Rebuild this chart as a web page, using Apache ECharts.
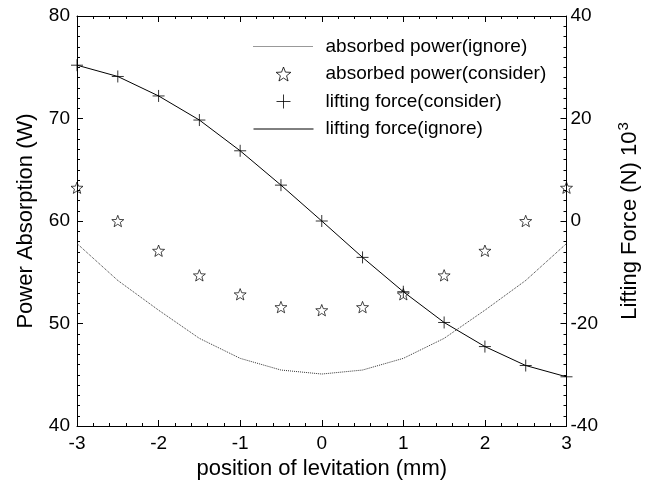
<!DOCTYPE html>
<html>
<head>
<meta charset="utf-8">
<script src="https://cdn.jsdelivr.net/npm/echarts@6/dist/echarts.min.js"></script>
<style>
  html, body { margin: 0; padding: 0; background: #fff; }
  #chart { width: 649px; height: 487px; }
</style>
</head>
<body>
<div id="chart"></div>
<script>
// positions of levitation (mm)
const positions = [-3, -2.5, -2, -1.5, -1, -0.5, 0, 0.5, 1, 1.5, 2, 2.5, 3];
// power absorption (W), left axis
const powerIgnore = [57.8, 54.2, 51.3, 48.55, 46.6, 45.46, 45.07, 45.46, 46.6, 48.55, 51.3, 54.2, 57.8];
const powerConsider = [63.25, 60.0, 57.1, 54.7, 52.85, 51.6, 51.3, 51.6, 52.85, 54.7, 57.1, 60.0, 63.25];
// lifting force (N x 10^3), right axis
const forceConsider = [30.4, 28.2, 24.4, 19.7, 13.7, 7.0, 0, -7.1, -13.8, -19.8, -24.5, -28.2, -30.4];
const forceIgnore = [30.4, 28.2, 24.4, 19.7, 13.7, 7.0, 0, -7.1, -13.8, -19.8, -24.5, -28.2, -30.4];

const names = ['absorbed power(ignore)', 'absorbed power(consider)', 'lifting force(consider)', 'lifting force(ignore)'];

const font = "'Liberation Sans', Arial, sans-serif";
const starPath = 'path://M10,0L12.47,6.6L19.51,6.91L13.99,11.3L15.88,18.09L10,14.2L4.12,18.09L6.01,11.3L0.49,6.91L7.53,6.6Z';
const plusPath = 'path://M0,5L10,5M5,0L5,10';

function pairs(ys) {
    return positions.map((x, i) => [x, ys[i]]);
}

// boxed frame: inside ticks on every side
function frame(minorSplit) {
    return {
        axisLine: { show: true, onZero: false, lineStyle: { color: '#000', width: 1 } },
        axisTick: { show: true, inside: true, length: 6, lineStyle: { color: '#000', width: 1 } },
        minorTick: { show: true, splitNumber: minorSplit, length: 3, lineStyle: { color: '#000', width: 1 } },
        splitLine: { show: false },
    };
}

const chart = echarts.init(document.getElementById('chart'));
chart.setOption({
    animation: false,
    textStyle: { fontFamily: font, color: '#000' },
    grid: { left: 77, right: 81, top: 16, bottom: 61 },
    legend: {
        orient: 'vertical',
        left: 253,
        top: 37,
        padding: 0,
        itemWidth: 60,
        itemHeight: 14,
        itemGap: 8.5,
        selectedMode: false,
        textStyle: { fontSize: 19, color: '#000', fontFamily: font, padding: [0, 0, 0, 7] },
        lineStyle: { width: 1 },
        itemStyle: { borderWidth: 1 },
        data: [
            { name: names[0], itemStyle: { opacity: 0 } },
            { name: names[1] },
            { name: names[2] },
            { name: names[3], itemStyle: { opacity: 0 } },
        ],
    },
    xAxis: [
        Object.assign({
            type: 'value', min: -3, max: 3, interval: 1, position: 'bottom',
            name: 'position of levitation (mm)', nameLocation: 'middle', nameGap: 30,
            nameTextStyle: { fontSize: 22, color: '#000', fontFamily: font },
            axisLabel: { fontSize: 19, color: '#000', margin: 8, fontFamily: font },
        }, frame(5)),
        Object.assign({
            type: 'value', min: -3, max: 3, interval: 1, position: 'top',
            axisLabel: { show: false },
        }, frame(5)),
    ],
    yAxis: [
        Object.assign({
            type: 'value', min: 40, max: 80, interval: 10, position: 'left',
            name: 'Power Absorption (W)', nameLocation: 'middle', nameGap: 40, nameRotate: 90,
            nameTextStyle: { fontSize: 22, color: '#000', fontFamily: font },
            axisLabel: { fontSize: 19, color: '#000', margin: 7, fontFamily: font },
        }, frame(10)),
        Object.assign({
            type: 'value', min: -40, max: 40, interval: 20, position: 'right',
            name: 'Lifting Force (N) 10{sup|3}', nameLocation: 'middle', nameGap: 50, nameRotate: 90,
            nameTextStyle: {
                fontSize: 22, color: '#000', fontFamily: font,
                rich: { sup: { fontSize: 15, color: '#000', fontFamily: font, verticalAlign: 'top', padding: [0, 0, 12, 1] } },
            },
            axisLabel: { fontSize: 19, color: '#000', margin: 4, fontFamily: font },
        }, frame(10)),
    ],
    series: [
        {
            name: names[0], type: 'line', xAxisIndex: 0, yAxisIndex: 0,
            data: pairs(powerIgnore), symbol: 'none',
            lineStyle: { color: '#333', width: 1, type: 'dotted' },
            itemStyle: { color: '#333' },
        },
        {
            name: names[1], type: 'scatter', xAxisIndex: 0, yAxisIndex: 0,
            data: pairs(powerConsider), symbol: starPath, symbolSize: 12, symbolKeepAspect: true,
            clip: false,
            itemStyle: { color: 'rgba(255,255,255,0)', borderColor: '#000', borderWidth: 0.9 },
        },
        {
            name: names[2], type: 'scatter', xAxisIndex: 0, yAxisIndex: 1,
            data: pairs(forceConsider), symbol: plusPath, symbolSize: 12,
            clip: false,
            itemStyle: { color: 'rgba(255,255,255,0)', borderColor: '#000', borderWidth: 1 },
        },
        {
            name: names[3], type: 'line', xAxisIndex: 0, yAxisIndex: 1,
            data: pairs(forceIgnore), symbol: 'none',
            lineStyle: { color: '#000', width: 1 },
            itemStyle: { color: '#000' },
        },
    ],
});
</script>
</body>
</html>
